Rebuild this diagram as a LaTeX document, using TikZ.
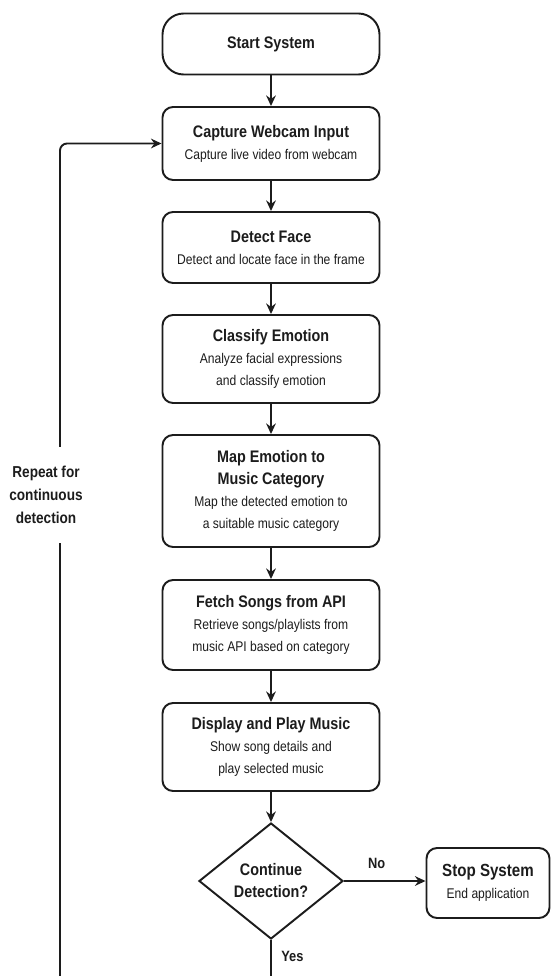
\documentclass[tikz,border=0pt]{standalone}
\usepackage{fontspec}
\setmainfont[FakeStretch=0.86]{Liberation Sans}
\usetikzlibrary{shapes.geometric,arrows.meta}
\definecolor{ink}{HTML}{1C1C1C}
\newcommand{\boxtitle}[1]{{\fontsize{9.5}{14}\selectfont\bfseries #1}}
\tikzset{
  procbox/.style={draw=ink, line width=1.1pt, rounded corners=6pt, fill=white,
    minimum width=4.34cm, align=center, text=ink,
    font=\fontsize{8}{12.5}\selectfont},
  startbox/.style={procbox, rounded corners=12pt},
  decbox/.style={diamond, draw=ink, line width=1.1pt, fill=white, aspect=1.24,
    minimum width=2.88cm, minimum height=2.32cm, inner sep=0pt, align=center, text=ink,
    font=\fontsize{9.5}{12.5}\selectfont\bfseries},
  note/.style={align=center, text=ink, inner xsep=0pt, inner ysep=0.38cm,
    font=\fontsize{9}{13}\selectfont\bfseries},
  flow/.style={draw=ink, line width=1.1pt}
}
\begin{document}
\begin{tikzpicture}[>={Stealth[length=6pt,width=5.5pt]}]
\useasboundingbox (0,0) rectangle (11.02,-19.52);
% main steps
\node[startbox, minimum height=1.22cm] (start) at (5.42,-0.88) {\boxtitle{Start System}};
\node[procbox, minimum height=1.46cm] (capture) at (5.42,-2.87) {\boxtitle{Capture Webcam Input}\\ Capture live video from webcam};
\node[procbox, minimum height=1.42cm] (detect) at (5.42,-4.95) {\boxtitle{Detect Face}\\ Detect and locate face in the frame};
\node[procbox, minimum height=1.76cm] (classify) at (5.42,-7.18) {\boxtitle{Classify Emotion}\\ Analyze facial expressions\\ and classify emotion};
\node[procbox, minimum height=2.24cm] (mapcat) at (5.42,-9.82) {\boxtitle{Map Emotion to}\\ \boxtitle{Music Category}\\ Map the detected emotion to\\ a suitable music category};
\node[procbox, minimum height=1.80cm] (fetch) at (5.42,-12.5) {\boxtitle{Fetch Songs from API}\\ Retrieve songs/playlists from\\ music API based on category};
\node[procbox, minimum height=1.76cm] (display) at (5.42,-14.94) {\boxtitle{Display and Play Music}\\ Show song details and\\ play selected music};
\node[decbox] (cont) at (5.42,-17.62) {Continue\\ Detection?};
\node[procbox, minimum width=2.46cm, minimum height=1.40cm] (stop) at (9.76,-17.66) {{\fontsize{10}{14}\selectfont\bfseries Stop System}\\ End application};
% straight flow
\draw[flow,->] (start) -- (capture);
\draw[flow,->] (capture) -- (detect);
\draw[flow,->] (detect) -- (classify);
\draw[flow,->] (classify) -- (mapcat);
\draw[flow,->] (mapcat) -- (fetch);
\draw[flow,->] (fetch) -- (display);
\draw[flow,->] (display) -- (cont);
\draw[flow,->] (cont.east) -- (stop.west |- cont.east) node[pos=0.4, above=3pt, text=ink, font=\fontsize{8.5}{10}\selectfont\bfseries] {No};
% loop back
\coordinate (yesend) at (5.42,-19.52);
\coordinate (loopbot) at (1.2,-19.52);
\draw[flow] (cont.south) -- (yesend) node[pos=0.45, right=2pt, text=ink, font=\fontsize{8.5}{10}\selectfont\bfseries] {Yes};
\node[note] (repeat) at (0.92,-9.9) {Repeat for\\ continuous\\ detection};
\draw[flow] (loopbot) -- (loopbot |- repeat.south);
\draw[flow,->,rounded corners=4pt] (loopbot |- repeat.north) |- (capture.west);
\end{tikzpicture}
\end{document}
